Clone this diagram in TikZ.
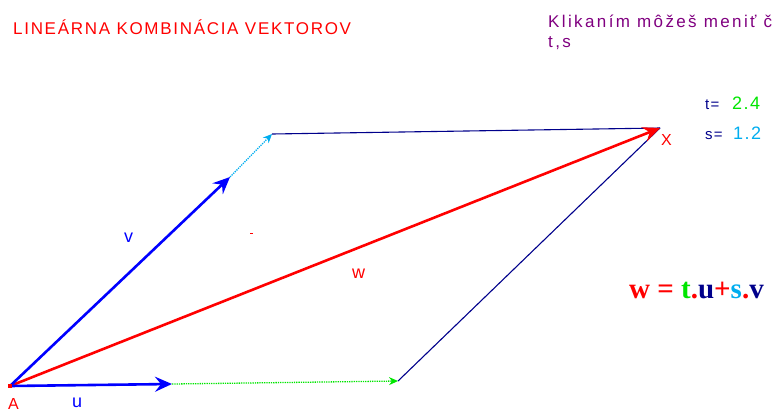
\documentclass[tikz,border=0pt]{standalone}
\usepackage{fontspec}
\setmainfont{Liberation Sans}
\newfontfamily\titlefont[LetterSpace=10]{Liberation Sans}
\newfontfamily\hintfont[LetterSpace=14]{Liberation Sans}
\newfontfamily\valfont[LetterSpace=8]{Liberation Sans}
\newfontfamily\formulafont{Liberation Serif}
\usetikzlibrary{arrows.meta}
\definecolor{navy}{RGB}{0,0,139}
\definecolor{lila}{RGB}{128,0,128}
\definecolor{lime}{RGB}{0,230,0}
\begin{document}
\begin{tikzpicture}[
        x=1pt, y=-1pt,
        vec/.style={line width=2.6pt, -{Stealth[length=17pt, width=15pt, inset=6pt]}},
        dots/.style={densely dotted, line width=1.3pt, -{Stealth[length=9pt, width=8pt, inset=3pt]}},
        side/.style={draw=navy, line width=1.1pt},
        lab/.style={font=\fontsize{18}{18}\selectfont, inner sep=0pt, anchor=base west}
    ]
    \useasboundingbox (0,0) rectangle (783,408);

    % points of the parallelogram
    \coordinate (A) at (10,386);
    \coordinate (U) at (172,384);
    \coordinate (TU) at (398,381);
    \coordinate (V) at (230,177);
    \coordinate (SV) at (272,134);
    \coordinate (X) at (660,128);

    % texts
    \node (title) [lab, red, font=\titlefont\fontsize{17}{17}\selectfont] at (13,34) {LINEÁRNA KOMBINÁCIA VEKTOROV};
    \node (hint) [lab, lila, font=\hintfont\fontsize{17}{17}\selectfont] at (548,27) {Klikaním môžeš meniť č};
    \node (hint2) [lab, lila, font=\hintfont\fontsize{17}{17}\selectfont] at (548,47) {t,s};
    \node (tlab) [lab, navy, font=\valfont\fontsize{15}{15}\selectfont] at (705,109) {t=};
    \node (tval) [lab, lime, font=\valfont\fontsize{18}{18}\selectfont] at (732,109) {2.4};
    \node (slab) [lab, navy, font=\valfont\fontsize{15}{15}\selectfont] at (705,139) {s=};
    \node (sval) [lab, cyan, font=\valfont\fontsize{18}{18}\selectfont] at (733,139) {1.2};
    \node (formula) [lab, font=\formulafont\bfseries\fontsize{29}{29}\selectfont] at (629,298)
        {\textcolor{red}{w = }\textcolor{lime}{t}\textcolor{red}{.}\textcolor{navy}{u}\textcolor{red}{+}\textcolor{cyan}{s}\textcolor{red}{.}\textcolor{navy}{v}};

    % vectors
    \draw [side] (SV) -- (X);
    \draw [side] (TU) -- (X);
    \draw [vec, red] (A) -- (X);
    \draw [dots, lime] (U) -- (TU);
    \draw [dots, cyan] (V) -- (SV);
    \draw [vec, blue] (A) -- (U);
    \draw [vec, blue] (A) -- (V);
    \fill [red] (8,384) rectangle (12,388);
    \draw [red, line width=1pt] (250,233) -- (253,233);

    % labels of the vectors
    \node (alab) [lab, red, font=\fontsize{16}{16}\selectfont] at (8,409) {A};
    \node (ulab) [lab, blue] at (72,407) {u};
    \node (vlab) [lab, blue] at (124,242) {v};
    \node (wlab) [lab, red] at (352,278) {w};
    \node (xlab) [lab, red, font=\fontsize{16}{16}\selectfont] at (661,145) {X};
\end{tikzpicture}
\end{document}
